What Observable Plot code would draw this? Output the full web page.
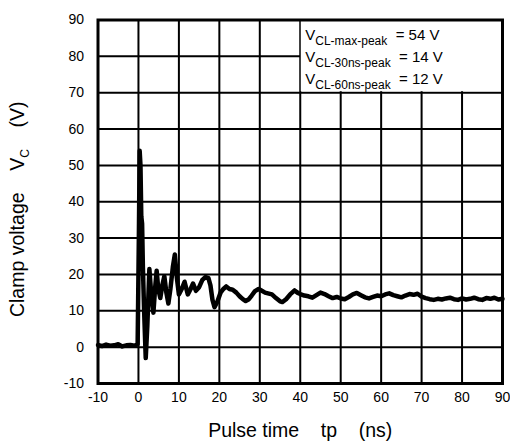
<!DOCTYPE html>
<html>
<head>
<meta charset="utf-8">
<script src="https://cdn.jsdelivr.net/npm/d3@7"></script>
<script src="https://cdn.jsdelivr.net/npm/@observablehq/plot@0.6"></script>
<style>
  html, body { margin: 0; padding: 0; background: #fff; }
  #chart { width: 510px; height: 447px; }
</style>
</head>
<body>
<div id="chart"></div>
<script>
// ---- data ----
const xTicks = [-10, 0, 10, 20, 30, 40, 50, 60, 70, 80, 90];
const yTicks = [-10, 0, 10, 20, 30, 40, 50, 60, 70, 80, 90];

const pulseTime = [
  -10, -9, -8, -7, -6, -5, -4, -3, -2, -1, -0.2,
  0.1, 0.3, 0.5, 0.7, 0.9, 1.1, 1.4, 1.8, 2.2, 2.7, 3.2, 3.7, 4.1, 4.5, 4.9,
  5.4, 5.9, 6.4, 6.9, 7.4, 7.9, 8.5, 9.0, 9.5, 10.0, 10.7, 11.4, 12.2, 12.9,
  13.5, 14.2, 15.0, 15.8, 16.6, 17.3, 17.8, 18.3, 18.8, 19.5, 20.3, 21, 21.7,
  22.5, 23.3, 24.2, 25, 25.8, 26.5, 27.3, 28, 28.8, 29.7, 30.5, 31.3, 32, 33,
  34, 35, 35.6, 36.5, 37.5, 38.6, 39.3,
  40, 41, 42, 43, 44, 45, 46, 47, 48, 49, 50, 51, 52, 53, 54, 55, 56, 57, 58,
  59, 60, 61, 62, 63, 64, 65, 66, 67, 68, 69, 70, 71, 72, 73, 74, 75, 76, 77,
  78, 79, 80, 81, 82, 83, 84, 85, 86, 87, 88, 89, 90
];
const clampVoltage = [
  0.6, 0.3, 0.7, 0.4, 0.5, 0.8, 0.2, 0.5, 0.6, 0.4, 0.8,
  30, 54, 50, 36, 34, 22, 10, -3, 6, 21.5, 14, 9.5, 16, 21, 16,
  13.5, 17, 19.5, 15, 12, 16, 22, 25.5, 19, 14.5, 16, 18, 14.5, 16,
  17.5, 15.5, 16.5, 18.5, 19.3, 19, 17, 13, 11, 12.5, 15, 16, 16.7,
  16, 15.8, 15, 14, 13.2, 12.7, 13.2, 14.2, 15.4, 16, 15.5, 15, 14.8, 14.5,
  13.5, 12.6, 12.4, 13.2, 14.5, 15.6, 15,
  14.6, 14.2, 14.0, 13.6, 14.3, 15.0, 14.6, 14.0, 13.5, 13.8, 13.4, 13.2, 13.8, 14.5, 14.9, 14.3, 13.7, 13.4, 13.8,
  14.2, 14.0, 14.5, 14.8, 14.3, 14.0, 13.7, 14.2, 14.6, 14.4, 14.7, 13.9, 13.5, 13.2, 13.0, 13.3, 13.1, 13.4, 13.6,
  13.2, 13.0, 13.4, 13.1, 13.3, 13.6, 13.2, 13.0, 13.5, 13.3, 13.6, 13.1, 13.3
];

const annotationLines = [
  "V_{CL-max-peak}\u00a0 = 54 V",
  "V_{CL-30ns-peak}\u00a0 = 14 V",
  "V_{CL-60ns-peak}\u00a0 = 12 V"
];
const annotationBox = [{t1: 40, t2: 90, v1: 70, v2: 90}];
const gap = "\u00a0\u00a0\u00a0\u00a0";
const xTitle = "Pulse time" + gap + "tp" + gap + "(ns)";
const yTitle = "Clamp voltage" + gap + "V_{C}" + gap + "(V)";

// ---- build ----
const data = pulseTime.map((t, i) => ({t, v: clampVoltage[i]}));
const annot = annotationLines.map((s, i) => ({s, row: i}));

const fontFamily = "'Liberation Sans', Arial, sans-serif";

const chart = Plot.plot({
  width: 510,
  height: 447,
  marginLeft: 97.5,
  marginRight: 8,
  marginTop: 19.5,
  marginBottom: 64,
  style: {fontFamily, fontSize: "14px", color: "#000", background: "#fff"},
  x: {domain: [-10, 90], ticks: xTicks, tickSize: 0, tickPadding: 9, label: null, tickFormat: d => String(d)},
  y: {domain: [-10, 90], ticks: yTicks, tickSize: 0, tickPadding: 14, label: null, tickFormat: d => String(d)},
  marks: [
    Plot.gridX(xTicks, {stroke: "#000", strokeOpacity: 1, strokeWidth: 2}),
    Plot.gridY(yTicks, {stroke: "#000", strokeOpacity: 1, strokeWidth: 2}),
    Plot.rect(annotationBox, {x1: "t1", x2: "t2", y1: "v1", y2: "v2", fill: "#fff", insetLeft: 1, insetBottom: 1}),
    Plot.line(data, {x: "t", y: "v", stroke: "#000", strokeWidth: 4.5, strokeLinejoin: "round", strokeLinecap: "round"}),
    Plot.frame({stroke: "#000", strokeWidth: 3}),
    ...annot.map(d => Plot.text([d], {
      x: () => 40, y: () => 90, text: "s",
      textAnchor: "start", lineAnchor: "bottom",
      dx: 5, dy: 20 + d.row * 22, fontSize: 15, fill: "#000"
    })),
    Plot.text([xTitle], {frameAnchor: "bottom", textAnchor: "middle", dy: 47, fontSize: 19.5, fill: "#000", lineAnchor: "middle"}),
    Plot.text([yTitle], {frameAnchor: "left", textAnchor: "middle", dx: -80, dy: 7.5, rotate: -90, fontSize: 19.5, fill: "#000", lineAnchor: "middle"})
  ]
});

// turn "_{...}" into real subscripts
d3.select(chart).selectAll("text").each(function() {
  const s = this.textContent;
  if (!s.includes("_{")) return;
  const fs = parseFloat(this.getAttribute("font-size")) || 15;
  const el = d3.select(this);
  el.text(null);
  const re = /_\{([^}]*)\}/g;
  let last = 0, m, shift = 0;
  while ((m = re.exec(s))) {
    const before = s.slice(last, m.index);
    if (before) el.append("tspan").attr("dy", shift ? -shift : null).text(before);
    const sh = fs * 0.33;
    el.append("tspan").attr("dy", sh).attr("font-size", fs * 0.8).text(m[1]);
    shift = sh;
    last = m.index + m[0].length;
  }
  const rest = s.slice(last);
  if (rest) el.append("tspan").attr("dy", shift ? -shift : null).text(rest);
});

document.getElementById("chart").appendChild(chart);
</script>
</body>
</html>
